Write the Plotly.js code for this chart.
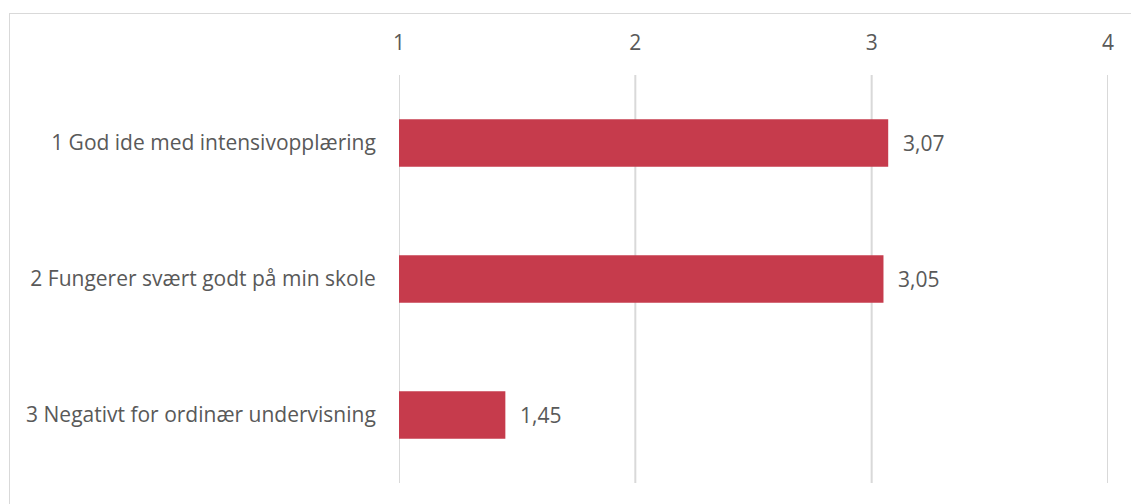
<!DOCTYPE html>
<html><head><meta charset="utf-8">
<script src="https://cdn.plot.ly/plotly-3.0.1.min.js"></script>
<style>
html,body{margin:0;padding:0;background:#fff;}
#wrap{position:relative;width:1131px;height:504px;overflow:hidden;}
#chart{position:absolute;left:0;top:0;width:1131px;height:504px;}
#frame{position:absolute;left:9px;top:13px;width:1140px;height:520px;border:1px solid #d9d9d9;pointer-events:none;}
</style></head>
<body><div id="wrap"><div id="chart"></div><div id="frame"></div></div>
<script>
const categories = ["1 God ide med intensivopplæring", "2 Fungerer svært godt på min skole", "3 Negativt for ordinær undervisning"];
const values = [3.07, 3.05, 1.45];
const tickVals = [1, 2, 3, 4];
const fmt = v => v.toFixed(2).replace('.', ',');
const FONT = "Open Sans, sans-serif";
const GRAY = "#595959";
const SIZE = 21;

const trace = {
  type: 'bar', orientation: 'h',
  x: values, y: categories,
  marker: {color: '#C63B4C'},
  width: 0.35,
  hoverinfo: 'skip'
};
const annotations = values.map((v, i) => ({
  x: v, y: categories[i], xref: 'x', yref: 'y',
  text: fmt(v), showarrow: false, xanchor: 'left', xshift: 13,
  font: {family: FONT, size: SIZE, color: GRAY}
}));
const shapes = tickVals.map(t => ({
  type: 'line', xref: 'x', yref: 'paper', x0: t, x1: t, y0: 0, y1: 1,
  line: {color: '#d9d9d9', width: 2}, layer: 'below'
}));
const layout = {
  width: 1131, height: 504,
  margin: {l: 399, r: 23, t: 75, b: 21, pad: 0},
  paper_bgcolor: 'rgba(0,0,0,0)', plot_bgcolor: 'rgba(0,0,0,0)',
  showlegend: false,
  font: {family: FONT, size: SIZE, color: GRAY},
  xaxis: {
    side: 'top', range: [1, 4], tickvals: tickVals, ticktext: tickVals.map(String),
    showgrid: false, zeroline: false, showline: false,
    ticks: 'outside', ticklen: 16, tickcolor: 'rgba(0,0,0,0)',
    tickfont: {family: FONT, size: SIZE, color: GRAY}, fixedrange: true
  },
  yaxis: {
    autorange: 'reversed', showgrid: false, zeroline: false, showline: false,
    ticks: 'outside', ticklen: 18, tickcolor: 'rgba(0,0,0,0)',
    tickfont: {family: FONT, size: SIZE, color: GRAY}, fixedrange: true
  },
  shapes: shapes,
  annotations: annotations
};
Plotly.newPlot('chart', [trace], layout, {displayModeBar: false, staticPlot: true});
</script></body></html>
